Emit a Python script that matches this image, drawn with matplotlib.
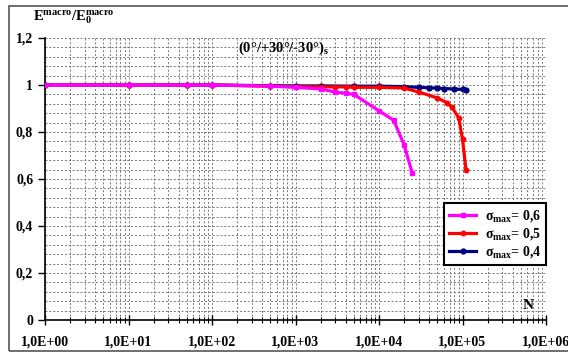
import matplotlib.pyplot as plt
from matplotlib.ticker import LogLocator, MultipleLocator, NullFormatter
from matplotlib.patches import Rectangle

# data
n_06 = [1, 10, 50, 100, 500, 1000, 2000, 3000, 4000, 5000, 10000, 15000, 20000, 25000]
e_06 = [1.0, 1.0, 1.0, 1.0, 0.995, 0.99, 0.983, 0.97, 0.965, 0.96, 0.89, 0.85, 0.745, 0.625]

n_05 = [1, 10, 50, 100, 500, 1000, 2000, 3000, 4000, 5000, 10000, 20000, 30000,
        50000, 65000, 75000, 90000, 100000, 110000]
e_05 = [1.0, 1.0, 1.0, 1.0, 0.995, 0.993, 0.992, 0.992, 0.992, 0.99, 0.99, 0.987, 0.97,
        0.945, 0.925, 0.905, 0.86, 0.77, 0.64]

n_04 = [1, 10, 50, 100, 500, 1000, 2000, 5000, 10000, 20000, 30000, 40000, 50000,
        60000, 80000, 100000, 110000]
e_04 = [1.0, 1.0, 1.0, 1.0, 0.997, 0.996, 0.996, 0.995, 0.995, 0.993, 0.99, 0.988,
        0.987, 0.985, 0.983, 0.981, 0.98]

xticks = [1, 10, 100, 1000, 10000, 100000, 1000000]
xlabels = ['1,0E+00', '1,0E+01', '1,0E+02', '1,0E+03', '1,0E+04', '1,0E+05', '1,0E+06']
yticks = [0, 0.2, 0.4, 0.6, 0.8, 1.0, 1.2]
ylabels = ['0', '0,2', '0,4', '0,6', '0,8', '1', '1,2']

plt.rcParams['font.family'] = ['Liberation Serif', 'DejaVu Serif']
plt.rcParams['font.weight'] = 'bold'
plt.rcParams['mathtext.fontset'] = 'custom'
plt.rcParams['mathtext.rm'] = 'Liberation Serif:bold'
plt.rcParams['mathtext.bf'] = 'Liberation Serif:bold'
plt.rcParams['mathtext.it'] = 'Liberation Serif:bold'

fig = plt.figure(figsize=(5.68, 3.54), dpi=100)
fig.patches.append(Rectangle((9 / 568, 1 - 351 / 354), 570 / 568, 345 / 354,
                             transform=fig.transFigure, fill=False,
                             edgecolor='#555555', linewidth=1.2))
ax = fig.add_axes([45 / 568, 34 / 354, 501 / 568, 282 / 354])

ax.plot(n_04, e_04, color='#000080', lw=2.3, marker='o', ms=3.5, zorder=3,
        label=r'σ$_{\mathrm{max}}$= 0,4')
ax.plot(n_05, e_05, color='#ff0000', lw=2.3, marker='o', ms=3.2, zorder=4,
        label=r'σ$_{\mathrm{max}}$= 0,5')
ax.plot(n_06, e_06, color='#ff00ff', lw=2.3, marker='s', ms=3.2, zorder=5,
        label=r'σ$_{\mathrm{max}}$= 0,6')

ax.set_xscale('log')
ax.set_xlim(1, 1e6)
ax.set_ylim(0, 1.2)
ax.set_xticks(xticks)
ax.set_xticklabels(xlabels)
ax.xaxis.set_minor_locator(LogLocator(base=10, subs=range(2, 10)))
ax.xaxis.set_minor_formatter(NullFormatter())
ax.set_yticks(yticks)
ax.set_yticklabels(ylabels)
ax.yaxis.set_minor_locator(MultipleLocator(0.04))

ax.grid(which='both', color='#777777', linestyle=(0, (2, 2)), linewidth=0.7)
ax.tick_params(axis='x', which='major', direction='inout', length=7, width=1, labelsize=10, pad=8)
ax.tick_params(axis='x', which='minor', direction='inout', length=5, width=0.8)
ax.tick_params(axis='y', which='major', direction='out', length=5, width=1, labelsize=10)
ax.tick_params(axis='y', which='minor', length=0)

for side in ['top', 'right']:
    ax.spines[side].set_visible(False)
ax.spines['left'].set_linewidth(1.2)
ax.spines['bottom'].set_linewidth(1.2)

h, l = ax.get_legend_handles_labels()
leg = ax.legend(h[::-1], l[::-1], loc='lower right', bbox_to_anchor=(1.0, 0.195),
                borderaxespad=0, frameon=True, fancybox=False, fontsize=10,
                handlelength=2.0, handletextpad=0.6, borderpad=0.35,
                labelspacing=0.15, framealpha=1)
leg.get_frame().set_edgecolor('black')
leg.get_frame().set_linewidth(1.5)

fig.text(33 / 568, 1 - 20 / 354,
         r'E$^{\mathrm{macro}}$/E$_{0}^{\mathrm{macro}}$', fontsize=10.5)
ax.text(0.385, 0.965, r'(0°/+30°/-30°)$_{\mathrm{s}}$', transform=ax.transAxes,
        fontsize=10.5, va='center')
ax.text(0.965, 0.03, 'N', transform=ax.transAxes, fontsize=11, ha='center', va='bottom')

plt.savefig('out.png', dpi=100)
